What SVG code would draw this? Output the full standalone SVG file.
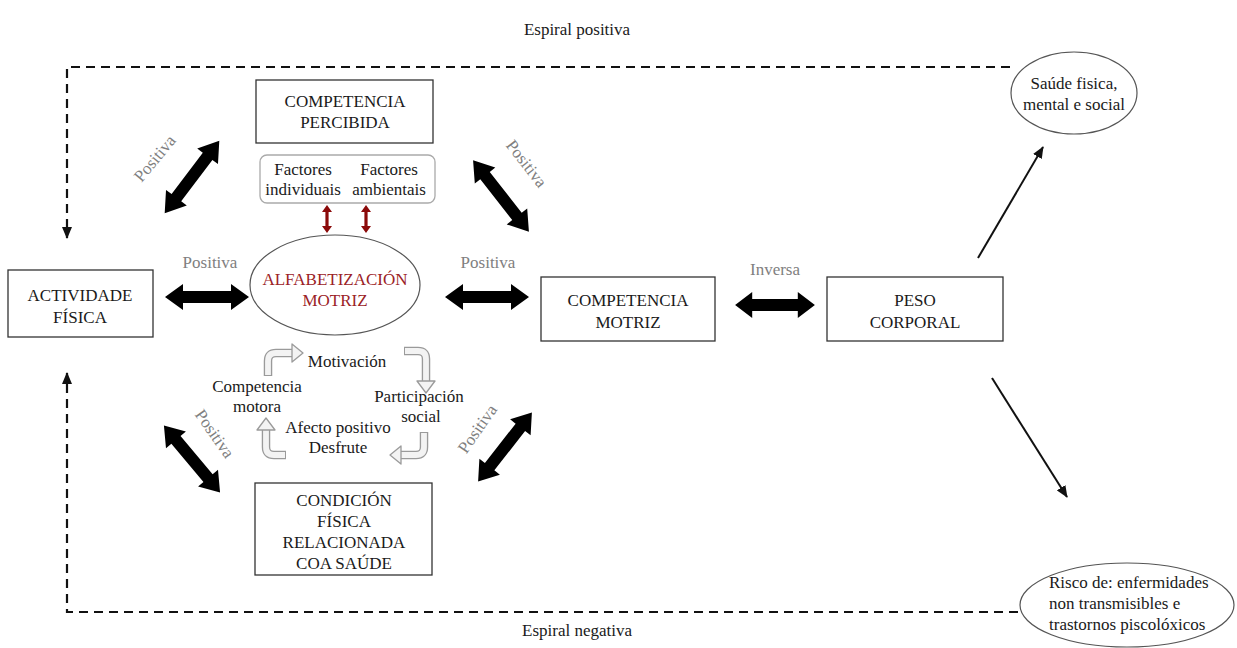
<svg xmlns="http://www.w3.org/2000/svg" width="1237" height="648" viewBox="0 0 1237 648" font-family="'Liberation Serif', 'DejaVu Serif', serif">
<style>
text{font-family:'Liberation Serif','DejaVu Serif',serif;font-size:17px;fill:#1a1a1a;text-anchor:middle}
.box{fill:#fff;stroke:#333;stroke-width:1.3}
.ell{fill:#fff;stroke:#555;stroke-width:1.2}
.pos{fill:#808080}
.red{fill:#9b2226}
.dash{fill:none;stroke:#111;stroke-width:2.2;stroke-dasharray:9 6}
.thin{fill:none;stroke:#111;stroke-width:2}
.cyo{fill:none;stroke:#9a9a9a;stroke-width:8.5}
.cyi{fill:none;stroke:#f3f3f3;stroke-width:5.8}
.cyh{fill:#f3f3f3;stroke:#9a9a9a;stroke-width:1.3;stroke-linejoin:round}
.big{fill:#000}
.rd{fill:#8b0a0a}
.st{text-anchor:start}
</style>
<defs>
<marker id="ah" viewBox="0 0 12 10" refX="11" refY="5" markerWidth="12" markerHeight="10" markerUnits="userSpaceOnUse" orient="auto">
<path d="M0,0 L12,5 L0,10 Z" fill="#111"/>
</marker>
<path id="dbl" d="M-42,0 L-24,-13 L-24,-6 L24,-6 L24,-13 L42,0 L24,13 L24,6 L-24,6 L-24,13 Z"/>
<path id="dblr" d="M0,-14 L5,-7 L1.6,-7 L1.6,7 L5,7 L0,14 L-5,7 L-1.6,7 L-1.6,-7 L-5,-7 Z"/>
</defs>

<text x="577" y="35">Espiral positiva</text>
<text x="577" y="636">Espiral negativa</text>

<g id="connectors">
<path class="dash" d="M1010,67 L67,67 L67,238" marker-end="url(#ah)"/>
<path class="dash" d="M1018,612 L67,612 L67,373" marker-end="url(#ah)"/>
<line class="thin" x1="978" y1="258" x2="1043" y2="147" marker-end="url(#ah)"/>
<line class="thin" x1="992" y1="378" x2="1067" y2="497" marker-end="url(#ah)"/>
<use href="#dbl" class="big" transform="translate(207,297)"/>
<use href="#dbl" class="big" transform="translate(487,297)"/>
<use href="#dbl" class="big" transform="translate(775,305) scale(0.95,1)"/>
<use href="#dbl" class="big" transform="translate(192,177) rotate(-53) scale(1.08,1)"/>
<use href="#dbl" class="big" transform="translate(501,196) rotate(52) scale(1.08,1)"/>
<use href="#dbl" class="big" transform="translate(192,459) rotate(50) scale(1.04,1)"/>
<use href="#dbl" class="big" transform="translate(505,447) rotate(-52) scale(1.04,1)"/>
<use href="#dblr" class="rd" transform="translate(327,219)"/>
<use href="#dblr" class="rd" transform="translate(366,219)"/>
<text class="pos" x="210" y="268">Positiva</text>
<text class="pos" x="488" y="268">Positiva</text>
<text class="pos" x="775" y="275">Inversa</text>
<text class="pos" transform="translate(159,162) rotate(-50)">Positiva</text>
<text class="pos" transform="translate(522,167) rotate(52)">Positiva</text>
<text class="pos" transform="translate(210,437) rotate(55)">Positiva</text>
<text class="pos" transform="translate(482,432) rotate(-55)">Positiva</text>
</g>

<g id="cycle">
<path class="cyo" d="M268,376 L268,361 Q268,353 276,353 L293,353"/>
<path class="cyi" d="M268,375 L268,361 Q268,353 276,353 L294,353"/>
<path class="cyh" d="M292,344 L303,353 L292,362 Z"/>
<path class="cyo" d="M404,351 L418,351 Q426,351 426,359 L426,381"/>
<path class="cyi" d="M405,351 L418,351 Q426,351 426,359 L426,382"/>
<path class="cyh" d="M417,381 L426,393 L435,381 Z"/>
<path class="cyo" d="M424,432 L424,447 Q424,455 416,455 L400,455"/>
<path class="cyi" d="M424,433 L424,447 Q424,455 416,455 L399,455"/>
<path class="cyh" d="M401,446 L390,455 L401,464 Z"/>
<path class="cyo" d="M286,455 L274,455 Q266,455 266,447 L266,429"/>
<path class="cyi" d="M285,455 L274,455 Q266,455 266,447 L266,428"/>
<path class="cyh" d="M257,430 L266,418 L275,430 Z"/>
<text x="347" y="367">Motivación</text>
<text x="257" y="392">Competencia</text>
<text x="257" y="412">motora</text>
<text x="419" y="402">Participación</text>
<text x="421" y="422">social</text>
<text x="338" y="433">Afecto positivo</text>
<text x="338" y="453">Desfrute</text>
</g>

<g id="competencia-percibida">
<rect class="box" x="256" y="80" width="177" height="63"/>
<text x="345" y="107">COMPETENCIA</text>
<text x="345" y="128">PERCIBIDA</text>
</g>
<g id="factores">
<rect x="260" y="155" width="175" height="48" rx="7" fill="#fff" stroke="#aaa" stroke-width="1.3"/>
<text x="303" y="175">Factores</text>
<text x="303" y="195">individuais</text>
<text x="389" y="175">Factores</text>
<text x="389" y="195">ambientais</text>
</g>
<g id="alfabetizacion">
<ellipse class="ell" cx="335" cy="285" rx="85" ry="50" stroke="#222"/>
<text class="red" x="335" y="285">ALFABETIZACIÓN</text>
<text class="red" x="335" y="306">MOTRIZ</text>
</g>
<g id="actividade">
<rect class="box" x="8" y="270" width="145" height="67"/>
<text x="80" y="301">ACTIVIDADE</text>
<text x="80" y="323">FÍSICA</text>
</g>
<g id="competencia-motriz">
<rect class="box" x="541" y="277" width="174" height="64"/>
<text x="628" y="306">COMPETENCIA</text>
<text x="628" y="328">MOTRIZ</text>
</g>
<g id="peso">
<rect class="box" x="827" y="277" width="176" height="64"/>
<text x="915" y="306">PESO</text>
<text x="915" y="328">CORPORAL</text>
</g>
<g id="condicion">
<rect class="box" x="255" y="483" width="177" height="92"/>
<text x="344" y="506">CONDICIÓN</text>
<text x="344" y="527">FÍSICA</text>
<text x="344" y="548">RELACIONADA</text>
<text x="344" y="569">COA SAÚDE</text>
</g>
<g id="saude">
<ellipse class="ell" cx="1074" cy="93" rx="63" ry="41"/>
<text x="1074" y="89">Saúde fisica,</text>
<text x="1074" y="110">mental e social</text>
</g>
<g id="risco">
<ellipse class="ell" cx="1127" cy="605" rx="107" ry="42"/>
<text class="st" x="1049" y="588">Risco de: enfermidades</text>
<text class="st" x="1049" y="609">non transmisibles e</text>
<text class="st" x="1049" y="630">trastornos piscolóxicos</text>
</g>
</svg>
